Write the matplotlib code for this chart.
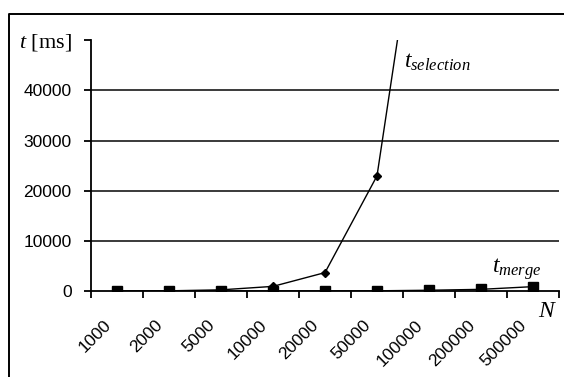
import matplotlib
matplotlib.use('Agg')
import matplotlib.pyplot as plt
from matplotlib.lines import Line2D
from matplotlib.transforms import ScaledTranslation

plt.rcParams['mathtext.fontset'] = 'custom'
plt.rcParams['mathtext.it'] = 'Liberation Serif:italic'
plt.rcParams['mathtext.rm'] = 'Liberation Serif'

# data
sizes = ['1000', '2000', '5000', '10000', '20000', '50000', '100000', '200000', '500000']
t_selection = [9, 37, 230, 920, 3670, 22950, 91800]
t_merge = [1, 2, 5, 10, 20, 40, 150, 330, 870]
y_ticks = [0, 10000, 20000, 30000, 40000, 50000]

W, H = 564, 377
fig = plt.figure(figsize=(W / 100, H / 100), dpi=100)
ax = fig.add_axes([91 / W, 1 - 291 / H, (559 - 91) / W, (291 - 40.2) / H])

x = list(range(len(sizes)))
ax.plot(x[:len(t_selection)], t_selection, color='black', lw=1.0,
        marker='D', ms=4.5, zorder=3)
ax.plot(x, t_merge, color='black', lw=1.0, marker='s', ms=7, zorder=4)

ax.set_xlim(-0.5, len(sizes) - 0.5)
ax.set_ylim(0, 50000)

for s in ['top', 'right']:
    ax.spines[s].set_visible(False)
for s in ['left', 'bottom']:
    ax.spines[s].set_linewidth(1.3)
    ax.spines[s].set_color('black')

# gridlines
for v in y_ticks[1:-1]:
    ax.axhline(v, color='#3a3a3a', lw=1.4, zorder=1)

ax.tick_params(axis='y', direction='out', length=5, width=1.3, pad=9,
               labelsize=12.5)
ax.set_yticks(y_ticks)
ax.set_yticklabels([str(v) for v in y_ticks[:-1]] + ['$t$ [ms]'])
for lab in ax.get_yticklabels()[:-1]:
    lab.set_fontfamily('Liberation Sans')
top_lab = ax.get_yticklabels()[-1]
top_lab.set_fontsize(16)
top_lab.set_fontfamily('Liberation Serif')

# category ticks at boundaries, labels at centres
ax.set_xticks([i - 0.5 for i in range(len(sizes) + 1)], minor=True)
ax.set_xticks(x)
ax.tick_params(axis='x', which='major', length=0, pad=19)
ax.tick_params(axis='x', which='minor', direction='out', length=5, width=1.3)
ax.set_xticklabels(sizes, rotation=45, ha='right', va='top',
                   rotation_mode='anchor', fontsize=12.5,
                   fontfamily='Liberation Sans')
off = ScaledTranslation(-0.14, 0, fig.dpi_scale_trans)
for lab in ax.get_xticklabels():
    lab.set_transform(lab.get_transform() + off)

# series labels
fig.text(404 / W, 1 - 68 / H, '$t_{selection}$', fontsize=17, ha='left', va='baseline')
fig.text(492 / W, 1 - 273 / H, '$t_{merge}$', fontsize=17, ha='left', va='baseline')
fig.text(538 / W, 1 - 317 / H, '$N$', fontsize=17, ha='left', va='baseline')

# outer frame
fig.add_artist(Line2D([9 / W, 9 / W, 1.0], [0.0, 1 - 14 / H, 1 - 14 / H],
                      transform=fig.transFigure, color='black', lw=1.4))

fig.savefig('out.png', dpi=100)
